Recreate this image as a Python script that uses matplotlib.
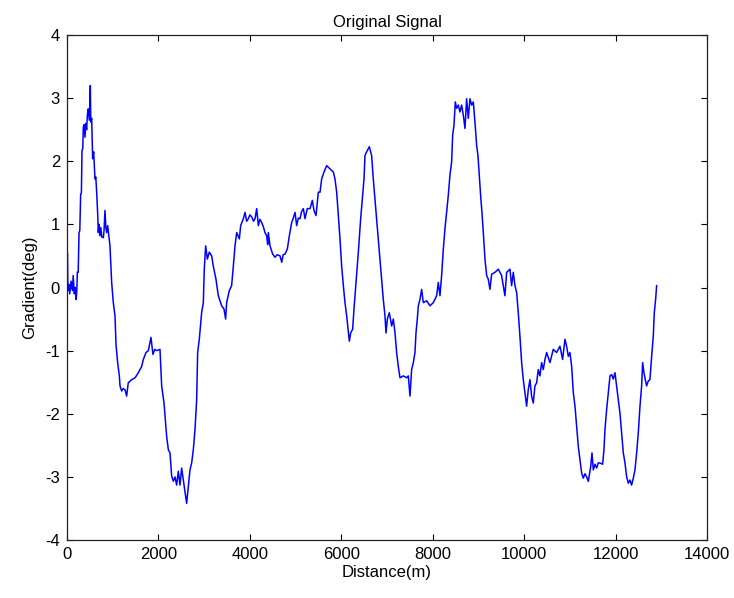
import matplotlib.pyplot as plt

# values
distance = [0, 8, 20, 40, 60, 90, 120, 135, 160, 180, 200, 215, 226, 245, 263, 280, 299, 315, 328, 345,
            357, 375, 394, 410, 430, 445, 465, 488, 500, 510, 520, 540, 561, 583, 612, 630, 649, 671, 685, 700,
            720, 740, 760, 795, 810, 831, 850, 868, 890, 910, 940, 977, 1013, 1050, 1072, 1108, 1145, 1160, 1196, 1230,
            1269, 1305, 1340, 1414, 1490, 1560, 1633, 1670, 1728, 1780, 1837, 1880, 1920, 1961, 2034, 2071, 2122, 2180, 2217, 2253,
            2290, 2326, 2362, 2399, 2435, 2472, 2508, 2545, 2581, 2617, 2654, 2690, 2727, 2763, 2800, 2836, 2858, 2894, 2945, 2982,
            3003, 3033, 3070, 3113, 3165, 3200, 3259, 3310, 3383, 3434, 3470, 3492, 3550, 3601, 3639, 3675, 3712, 3770, 3799, 3858,
            3894, 3930, 3967, 4000, 4040, 4080, 4113, 4150, 4186, 4220, 4259, 4300, 4331, 4368, 4390, 4404, 4441, 4499, 4550, 4600,
            4660, 4697, 4730, 4769, 4820, 4864, 4915, 4950, 4988, 5024, 5060, 5097, 5130, 5170, 5206, 5257, 5316, 5367, 5403, 5447,
            5498, 5535, 5571, 5622, 5680, 5753, 5826, 5862, 5899, 5935, 5972, 6008, 6045, 6081, 6118, 6154, 6176, 6205, 6249, 6278,
            6322, 6373, 6424, 6467, 6497, 6518, 6555, 6613, 6664, 6700, 6737, 6774, 6825, 6883, 6919, 6956, 6978, 7007, 7051, 7102,
            7138, 7175, 7211, 7247, 7284, 7357, 7430, 7466, 7503, 7539, 7576, 7612, 7634, 7663, 7685, 7721, 7758, 7794, 7867, 7940,
            8013, 8086, 8122, 8159, 8195, 8232, 8268, 8305, 8341, 8377, 8414, 8436, 8465, 8494, 8523, 8560, 8596, 8633, 8669, 8706,
            8742, 8778, 8815, 8851, 8888, 8924, 8961, 8990, 9019, 9048, 9077, 9107, 9143, 9180, 9216, 9252, 9289, 9362, 9435, 9507,
            9580, 9617, 9690, 9726, 9763, 9799, 9836, 9872, 9908, 9945, 9981, 10018, 10054, 10090, 10127, 10163, 10200, 10236, 10273, 10309,
            10346, 10382, 10419, 10455, 10492, 10565, 10637, 10710, 10783, 10841, 10893, 10929, 10966, 11002, 11039, 11076, 11112, 11149, 11185, 11221,
            11258, 11294, 11330, 11367, 11404, 11455, 11484, 11513, 11550, 11586, 11620, 11659, 11717, 11746, 11768, 11805, 11841, 11878, 11914, 11950,
            11987, 12023, 12060, 12096, 12133, 12169, 12206, 12242, 12279, 12315, 12351, 12388, 12424, 12461, 12497, 12534, 12570, 12592, 12621, 12650,
            12679, 12716, 12752, 12789, 12825, 12847, 12876, 12898]
gradient = [-0.80, 0.55, -0.05, 0.05, -0.10, 0.10, -0.05, 0.19, -0.10, 0.00, -0.19, -0.05, 0.24, 0.24, 0.87, 0.90, 1.48, 1.50, 2.17, 2.20,
            2.54, 2.58, 2.38, 2.60, 2.50, 2.73, 2.83, 2.65, 2.85, 3.20, 2.62, 2.68, 2.04, 2.15, 1.72, 1.75, 1.51, 1.17, 0.87, 1.00,
            0.82, 0.95, 0.80, 0.79, 0.90, 1.22, 0.95, 0.87, 0.98, 0.85, 0.66, 0.08, -0.24, -0.45, -0.90, -1.19, -1.40, -1.56, -1.64, -1.60,
            -1.62, -1.72, -1.51, -1.46, -1.43, -1.35, -1.25, -1.14, -1.03, -1.00, -0.79, -1.06, -0.98, -1.00, -0.98, -1.56, -1.83, -2.36, -2.57, -2.62,
            -2.99, -3.07, -3.00, -3.13, -2.91, -3.13, -2.86, -3.05, -3.23, -3.42, -3.15, -2.89, -2.78, -2.57, -2.25, -1.78, -1.03, -0.82, -0.40, -0.24,
            0.29, 0.66, 0.45, 0.56, 0.50, 0.34, 0.13, -0.13, -0.29, -0.34, -0.50, -0.24, -0.05, 0.03, 0.34, 0.66, 0.87, 0.77, 0.98, 1.09,
            1.19, 1.05, 1.09, 1.15, 1.12, 1.05, 1.09, 1.25, 0.98, 1.08, 1.03, 0.95, 0.87, 0.82, 0.68, 0.87, 0.66, 0.53, 0.48, 0.52,
            0.50, 0.40, 0.52, 0.53, 0.61, 0.82, 1.03, 1.10, 1.19, 0.98, 1.10, 1.09, 1.20, 1.25, 1.09, 1.25, 1.25, 1.38, 1.22, 1.14,
            1.51, 1.51, 1.72, 1.83, 1.93, 1.88, 1.83, 1.72, 1.51, 1.14, 0.77, 0.34, 0.03, -0.24, -0.45, -0.69, -0.85, -0.72, -0.66, -0.34,
            0.08, 0.56, 1.09, 1.46, 1.72, 2.09, 2.15, 2.23, 2.09, 1.72, 1.40, 1.09, 0.66, 0.13, -0.19, -0.45, -0.72, -0.50, -0.40, -0.61,
            -0.50, -0.72, -1.03, -1.25, -1.43, -1.40, -1.43, -1.40, -1.72, -1.30, -1.19, -1.03, -0.72, -0.50, -0.29, -0.19, -0.03, -0.24, -0.21, -0.29,
            -0.24, -0.13, 0.08, -0.13, 0.19, 0.61, 0.93, 1.19, 1.46, 1.78, 1.99, 2.41, 2.57, 2.94, 2.84, 2.89, 2.78, 2.89, 2.73, 2.52,
            2.99, 2.68, 2.99, 2.89, 2.94, 2.62, 2.25, 2.09, 1.78, 1.46, 1.19, 0.87, 0.45, 0.19, 0.13, -0.03, 0.21, 0.24, 0.29, 0.19,
            -0.13, 0.24, 0.29, 0.03, 0.24, 0.03, -0.08, -0.40, -0.77, -1.19, -1.46, -1.67, -1.88, -1.62, -1.46, -1.72, -1.83, -1.56, -1.51, -1.30,
            -1.40, -1.19, -1.30, -1.14, -1.03, -1.19, -0.98, -1.03, -0.93, -1.14, -0.82, -0.93, -1.09, -1.03, -1.25, -1.67, -1.88, -2.20, -2.52, -2.73,
            -2.94, -3.02, -2.95, -3.00, -3.07, -2.84, -2.62, -2.89, -2.80, -2.86, -2.78, -2.78, -2.80, -2.57, -2.25, -1.93, -1.67, -1.40, -1.38, -1.45,
            -1.35, -1.56, -1.77, -1.99, -2.30, -2.62, -2.78, -3.00, -3.10, -3.05, -3.13, -3.02, -2.89, -2.62, -2.30, -1.88, -1.56, -1.19, -1.35, -1.46,
            -1.56, -1.48, -1.46, -1.09, -0.77, -0.40, -0.19, 0.03]

x_ticks = [0, 2000, 4000, 6000, 8000, 10000, 12000, 14000]
y_ticks = [-4, -3, -2, -1, 0, 1, 2, 3, 4]

plt.rcParams['font.family'] = ['Liberation Sans', 'DejaVu Sans']
plt.rcParams['axes.unicode_minus'] = False  # plain hyphen like the original

fig = plt.figure(figsize=(7.34, 5.98), dpi=100)
ax = fig.add_axes([67 / 734, 58 / 598, 640 / 734, 505 / 598])
ax.plot(distance, gradient, color='#0000ff', linewidth=1.1)

ax.set_xlim(0, 14000)
ax.set_ylim(-4, 4)
ax.set_xticks(x_ticks)
ax.set_yticks(y_ticks)
ax.tick_params(direction='in', top=True, right=True, length=4, width=0.8, labelsize=12, pad=5)
for sp in ax.spines.values():
    sp.set_linewidth(0.9)
    sp.set_color('#222222')

ax.set_title('Original Signal', fontsize=12, pad=6)
ax.set_xlabel('Distance(m)', fontsize=12, labelpad=2)
ax.set_ylabel('Gradient(deg)', fontsize=12, labelpad=6)

fig.savefig('out.png', dpi=100)
